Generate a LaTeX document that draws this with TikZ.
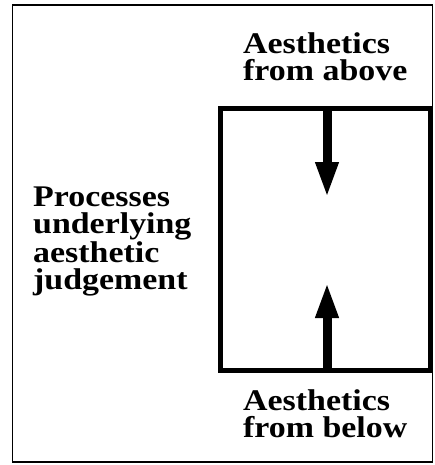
\documentclass[tikz,border=0pt]{standalone}
\usepackage{fontspec}
\setmainfont[FakeStretch=1.13]{Liberation Serif}
\usetikzlibrary{arrows.meta}
\tikzset{
  lbl/.style={inner sep=0pt, align=left, anchor=base west,
    font=\bfseries\fontsize{30}{27}\selectfont},
  bigarrow/.style={line width=9pt, -{Triangle[length=36pt,width=21pt]}},
}
\begin{document}
\begin{tikzpicture}[x=1pt,y=-1pt]
\useasboundingbox (0,0) rectangle (435,465);
\node[draw, line width=1.8pt, minimum width=420pt, minimum height=457pt, inner sep=0pt] (frame) at (222.5,233.5) {};
\node[draw, line width=5pt, minimum width=210pt, minimum height=261pt, inner sep=0pt] (box) at (325,239.5) {};
\coordinate (topin) at (327,109);
\coordinate (toptip) at (327,198);
\coordinate (botin) at (327,370);
\coordinate (bottip) at (327,282);
\draw[bigarrow] (topin) -- (toptip);
\draw[bigarrow] (botin) -- (bottip);
\node[lbl] (above) at (243,81) {Aesthetics\\from above};
\node[lbl] (below) at (243,437) {Aesthetics\\from below};
\node[lbl] (proc) at (33,289) {Processes\\underlying\\aesthetic\\judgement};
\end{tikzpicture}
\end{document}
